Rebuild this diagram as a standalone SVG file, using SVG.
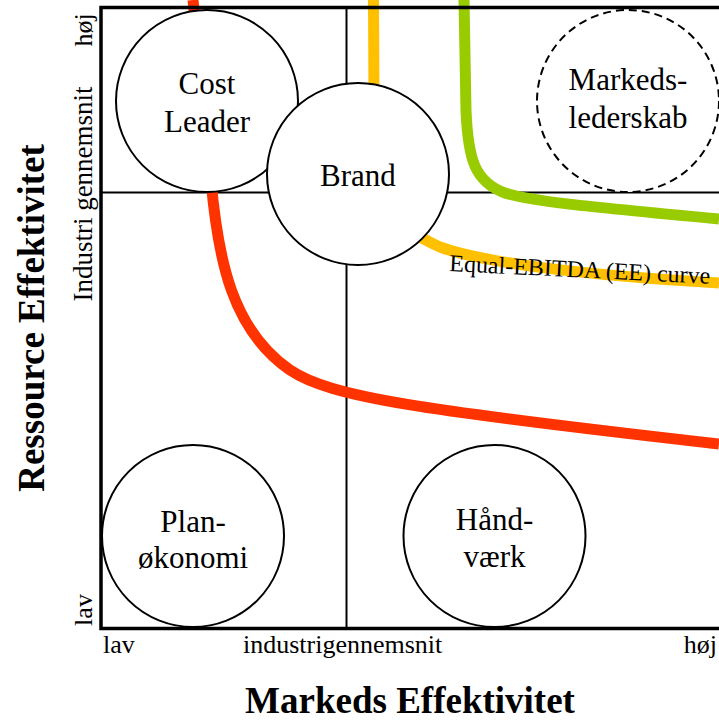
<svg xmlns="http://www.w3.org/2000/svg" width="719" height="724" viewBox="0 0 719 724">
  <style>
    text { font-family: "Liberation Serif", "Times New Roman", serif; fill: #000; }
    .tick { font-size: 26px; }
    .axis { font-size: 37px; font-weight: bold; }
    .node circle { fill: #fff; stroke: #000; stroke-width: 2; }
    .node text { font-size: 31px; text-anchor: middle; }
    .node.dashed circle { stroke-dasharray: 8 5; }
    .grid { stroke: #000; stroke-width: 2; fill: none; }
    .frame { stroke: #000; stroke-width: 3.5; fill: none; }
    .curve { fill: none; stroke-width: 11; stroke-linecap: butt; stroke-linejoin: round; }
    .red { stroke: #FF3300; }
    .orange { stroke: #FFC000; }
    .green { stroke: #99CC00; }
    .label { font-size: 24px; }
  </style>

  <rect x="0" y="0" width="719" height="724" fill="#fff"/>

  <!-- quadrant dividers -->
  <g id="grid">
    <line class="grid" x1="101" y1="192.5" x2="719" y2="192.5"/>
    <line class="grid" x1="346.5" y1="8" x2="346.5" y2="628"/>
  </g>

  <!-- equal-EBITDA curves -->
  <g id="connectors">
    <path id="curve-red" class="curve red" d="M 193 0 L 211 180 C 218 260, 232 330, 290 370 C 330 397, 420 410, 719 444"/>
    <path id="curve-orange" class="curve orange" d="M 373.5 0 L 374 100 C 376 200, 395 228, 440 247 C 480 262, 580 275, 719 283"/>
    <path id="curve-green" class="curve green" d="M 464 0 L 466 110 C 468 160, 475 182, 505 193 C 530 201, 580 206, 719 219"/>
    <text class="label" x="449" y="271" transform="rotate(2.8 449 271)">Equal-EBITDA (EE) curve</text>
  </g>

  <!-- strategy positions -->
  <g id="node-cost-leader" class="node">
    <circle cx="207" cy="101" r="91"/>
    <text x="207" y="94">Cost</text>
    <text x="207" y="132">Leader</text>
  </g>
  <g id="node-brand" class="node">
    <circle cx="358" cy="174" r="91"/>
    <text x="358" y="186">Brand</text>
  </g>
  <g id="node-markedslederskab" class="node dashed">
    <circle cx="628" cy="101" r="91"/>
    <text x="628" y="90">Markeds-</text>
    <text x="628" y="128">lederskab</text>
  </g>
  <g id="node-planokonomi" class="node">
    <circle cx="193" cy="536" r="91"/>
    <text x="193" y="532">Plan-</text>
    <text x="193" y="568">økonomi</text>
  </g>
  <g id="node-handvaerk" class="node">
    <circle cx="494.5" cy="536" r="91"/>
    <text x="494.5" y="530">Hånd-</text>
    <text x="494.5" y="567">værk</text>
  </g>

  <!-- chart frame -->
  <g id="frame">
    <path class="frame" d="M 719 7.5 L 101 7.5 L 101 628.5 L 719 628.5"/>
  </g>

  <!-- vertical axis -->
  <g id="y-axis">
    <text class="tick" transform="translate(92 30) rotate(-90)" text-anchor="middle">høj</text>
    <text class="tick" transform="translate(92 194) rotate(-90)" text-anchor="middle" style="font-size:27px">Industri gennemsnit</text>
    <text class="tick" transform="translate(92 610) rotate(-90)" text-anchor="middle">lav</text>
    <text class="axis" transform="translate(44 318) rotate(-90)" text-anchor="middle">Ressource Effektivitet</text>
  </g>

  <!-- horizontal axis -->
  <g id="x-axis">
    <text class="tick" x="103" y="653">lav</text>
    <text class="tick" x="243" y="653">industrigennemsnit</text>
    <text class="tick" x="717" y="653" text-anchor="end">høj</text>
    <text class="axis" x="410" y="713" text-anchor="middle">Markeds Effektivitet</text>
  </g>
</svg>
